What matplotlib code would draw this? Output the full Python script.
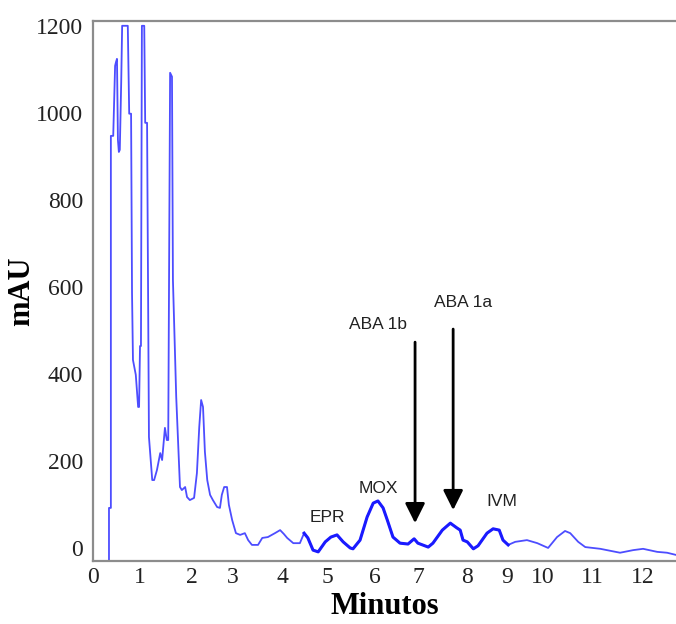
import numpy as np
import matplotlib
matplotlib.use('Agg')
from matplotlib import pyplot as plt

# chromatogram trace (time in min, signal in mAU)
time = [0.04, np.nan, 0.34, 0.34, 0.38, 0.38, 0.43, 0.47, 0.49, 0.51, 0.53, 0.55, 0.57, 0.60, 0.62,
        0.74, 0.77, 0.81, 0.83, 0.85, 0.91, 0.96, 0.98, 1.00, 1.02, 1.04, 1.09, 1.11, 1.15, 1.17,
        1.19, 1.26, 1.30, 1.36, 1.43, 1.47, 1.53, 1.57, 1.60, 1.64, 1.68, 1.70, 1.77, 1.81, 1.85,
        1.89, 1.96, 2.00, 2.06, 2.15, 2.21, 2.26, 2.30, 2.34, 2.38, 2.43, 2.49, 2.55, 2.64, 2.70,
        2.74, 2.79, 2.85, 2.89, 2.96, 3.04, 3.13, 3.23, 3.30, 3.38, 3.51, 3.60, 3.72, 3.87, 3.98,
        4.06, 4.13, 4.26, 4.40, 4.49, 4.57, 4.68, 4.79, 4.94, 5.06, 5.19, 5.32, 5.47, 5.53, 5.68,
        5.83, 5.96, 6.06, 6.17, 6.26, 6.38, 6.53, 6.70, 6.83, 6.91, 7.13, 7.23, 7.43, 7.60, 7.74,
        7.81, 7.87, 7.96, 8.09, 8.19, 8.38, 8.51, 8.64, 8.72, 8.83, 8.98, 9.23, 9.45, 9.68, 9.87,
        10.04, 10.15, 10.32, 10.47, 10.79, 11.21, 11.49, 11.70, 12.00, 12.21, 12.40]
mau = [9, np.nan, -30, 92, 92, 947, 947, 1108, 1117, 1124, 938, 910, 915, 1071, 1200,
       1200, 998, 998, 586, 432, 398, 324, 324, 464, 464, 1200, 1200, 977, 977, 611,
       255, 156, 156, 179, 218, 202, 276, 248, 248, 1092, 1083, 616, 347, 244, 140,
       133, 140, 117, 110, 115, 172, 278, 340, 324, 221, 156, 122, 110, 94, 92,
       122, 140, 140, 99, 64, 34, 30, 34, 18, 7, 7, 23, 25, 34, 41,
       32, 23, 11, 11, 34, 23, -5, -9, 14, 25, 30, 14, 0, -2, 18,
       71, 103, 108, 92, 64, 25, 11, 9, 21, 11, 2, 11, 41, 57, 46,
       41, 18, 14, -2, 5, 34, 44, 41, 18, 7, 14, 18, 11, 0, 25,
       39, 34, 14, 2, -2, -11, -5, -2, -9, -11, -16]

tick_pos = [0, 1.00, 2.11, 2.98, 4.02, 4.98, 6.00, 6.91, 7.96, 8.81, 9.57, 10.62, 11.70]
tick_labels = ['0', '1', '2', '3', '4', '5', '6', '7', '8', '9', '10', '11', '12']

peak_names = ['EPR', 'MOX', 'IVM', 'ABA 1b', 'ABA 1a']
peak_x = [4.98, 6.06, 8.70, 6.06, 7.87]
peak_y = [69, 136, 106, 513, 564]

arrow_x = [6.85, 7.66]
arrow_top = [473, 503]
arrow_tip = [57, 87]

time = np.array(time)
mau = np.array(mau)

fig = plt.figure(figsize=(6.76, 6.24), dpi=100)
ax = fig.add_axes([93 / 676, 1 - 561 / 624, 583 / 676, 540 / 624])

ax.plot(time, mau, color='#4d4dff', lw=1.3)
mid = (time >= 4.49) & (time <= 8.83)
ax.plot(time[mid], mau[mid], color='#1a1aff', lw=2.2)

for name, x, y in zip(peak_names, peak_x, peak_y):
    ax.text(x, y, name, ha='center', va='center', fontsize=12.5,
            family='Liberation Sans', color='#222222')

for x, y0, y1 in zip(arrow_x, arrow_top, arrow_tip):
    ax.annotate('', xy=(x, y1), xytext=(x, y0),
                arrowprops=dict(arrowstyle='-|>,head_length=1.0,head_width=0.5',
                                mutation_scale=12, lw=2, color='black',
                                shrinkA=0, shrinkB=0))

ax.set_xlim(0, 12.40)
ax.set_ylim(-30, 1211)
ax.set_xticks(tick_pos)
ax.set_xticklabels(tick_labels)
ax.set_yticks([0, 200, 400, 600, 800, 1000, 1200])
ax.tick_params(length=0, labelsize=17, colors='#222222')
ax.tick_params(axis='y', pad=7)
ax.tick_params(axis='x', pad=4)
for lab in ax.get_xticklabels() + ax.get_yticklabels():
    lab.set_family('Liberation Serif')

for side in ['left', 'bottom', 'top']:
    ax.spines[side].set_color('#8c8c8c')
    ax.spines[side].set_linewidth(1.6)
ax.spines['right'].set_visible(False)

ax.set_xlabel('Minutos', family='Liberation Serif', fontweight='bold', fontsize=22)
ax.set_ylabel('mAU', family='Liberation Serif', fontweight='bold', fontsize=22)
ax.xaxis.set_label_coords(0.5, -0.058)
ax.yaxis.set_label_coords(-0.098, 0.5)

fig.savefig('out.png', dpi=100)
